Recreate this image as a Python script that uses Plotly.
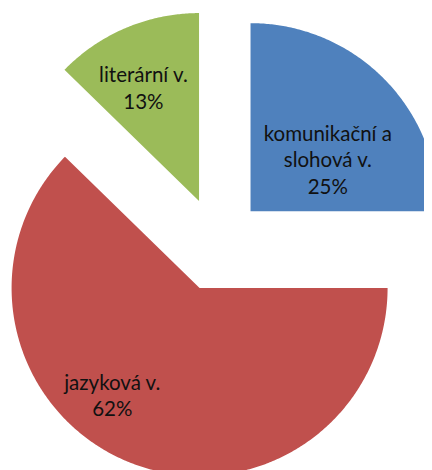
import math
import plotly.graph_objects as go

# ---- data ----
categories = ["komunikační a<br>slohová v.", "jazyková v.", "literární v."]
values = [25, 62.3, 12.7]

# ---- style ----
colors = ["#4F81BD", "#C0504D", "#9BBB59"]
PULL = 0.25              # explode distance, as fraction of radius
LABEL_DIST = [0.487, 0.747, 0.659]   # label distance from slice apex (fraction of radius)
LABEL_SHIFT = [12.6, 16.3, -3.8]     # label angle shift from slice bisector (deg)
FONT = "Lato"
FONT_SIZE = 20.5

# view window (pie radius = 1, centre at origin); page body adds an 8px offset
PX = 188.0
CX, CY = 217.3, 244.4
OFF = 8.0

total = sum(values)
fig = go.Figure()

label_x, label_y, label_text = [], [], []
cum = 0.0
for i, (cat, v) in enumerate(zip(categories, values)):
    t0 = cum / total * 360.0
    t1 = (cum + v) / total * 360.0
    cum += v
    tm = (t0 + t1) / 2.0
    ox = PULL * math.sin(math.radians(tm))
    oy = PULL * math.cos(math.radians(tm))
    n = max(8, int((t1 - t0) * 2))
    xs = [ox]
    ys = [oy]
    for k in range(n + 1):
        a = math.radians(t0 + (t1 - t0) * k / n)
        xs.append(ox + math.sin(a))
        ys.append(oy + math.cos(a))
    xs.append(ox)
    ys.append(oy)
    fig.add_trace(go.Scatter(
        x=xs, y=ys, mode="none", fill="toself", fillcolor=colors[i],
        hoverinfo="skip", showlegend=False,
    ))
    la = math.radians(tm + LABEL_SHIFT[i])
    label_x.append(ox + LABEL_DIST[i] * math.sin(la))
    label_y.append(oy + LABEL_DIST[i] * math.cos(la))
    label_text.append(f"{cat}<br>{round(v / total * 100)}%")

fig.add_trace(go.Scatter(
    x=label_x, y=label_y, mode="text", text=label_text,
    textposition="middle center",
    textfont=dict(family=FONT, size=FONT_SIZE, color="#111111"),
    hoverinfo="skip", showlegend=False,
))

W, H = 432, 470
fig.update_layout(
    width=W, height=H,
    margin=dict(l=0, r=0, t=0, b=0),
    paper_bgcolor="white", plot_bgcolor="white",
    xaxis=dict(range=[(OFF - CX) / PX, (OFF + W - CX) / PX], visible=False, fixedrange=True),
    yaxis=dict(range=[(CY - OFF - H) / PX, (CY - OFF) / PX], visible=False, fixedrange=True),
)

fig.write_html("out.html")
